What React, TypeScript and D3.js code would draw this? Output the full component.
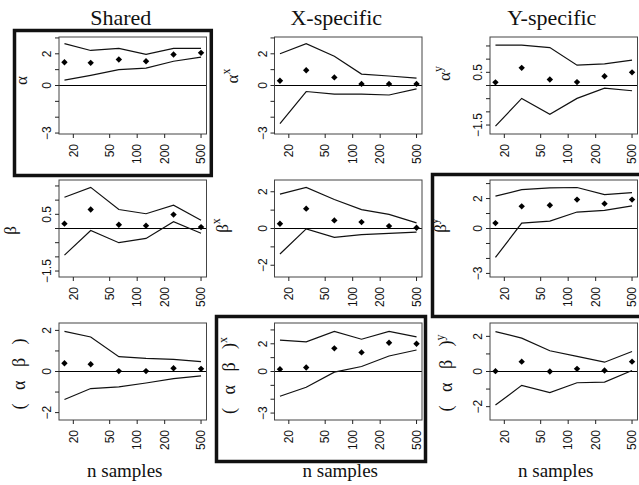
import React from "react";
import * as d3 from "d3";

// x axis: sample sizes (log scale)
const nSamples = [16, 31, 63, 125, 250, 500];
const xTickValues = [20, 50, 100, 200, 500];
const columnTitles = ["Shared", "X-specific", "Y-specific"];
const xAxisTitle = "n samples";

// y tick sets
const ticksThree = [-3, -2, -1, 0, 1, 2, 3];
const ticksTwo = [-2, -1, 0, 1, 2];
const ticksHalf = [-1.5, -1, -0.5, 0, 0.5, 1, 1.5];
const labelsThree = [2, 0, -3];
const labelsTwo = [2, 0, -2];
const labelsHalf = [0.5, -1.5];

// upper bound / lower bound / estimate per panel
const alphaUpper = [2.64, 2.21, 2.34, 1.96, 2.34, 2.34];
const alphaLower = [0.34, 0.64, 1.0, 1.1, 1.53, 1.79];
const alphaEst = [1.47, 1.43, 1.64, 1.53, 1.96, 2.06];

const alphaXUpper = [2.0, 2.64, 1.85, 0.72, 0.6, 0.47];
const alphaXLower = [-2.4, -0.38, -0.55, -0.55, -0.6, -0.21];
const alphaXEst = [0.3, 0.96, 0.51, 0.1, 0.1, 0.1];

const alphaYUpper = [1.53, 1.53, 1.44, 0.77, 0.82, 0.96];
const alphaYLower = [-1.54, -0.49, -1.09, -0.49, -0.1, -0.2];
const alphaYEst = [0.12, 0.67, 0.23, 0.13, 0.35, 0.5];

const betaUpper = [1.1, 1.45, 0.67, 0.52, 0.82, 0.29];
const betaLower = [-0.94, -0.07, -0.5, -0.35, 0.24, -0.17];
const betaEst = [0.17, 0.67, 0.13, 0.1, 0.49, 0.05];

const betaXUpper = [1.87, 2.24, 1.58, 1.03, 0.77, 0.31];
const betaXLower = [-1.39, -0.02, -0.48, -0.33, -0.26, -0.2];
const betaXEst = [0.26, 1.08, 0.44, 0.35, 0.13, 0.04];

const betaYUpper = [2.16, 2.6, 2.72, 2.74, 2.27, 2.4];
const betaYLower = [-1.93, 0.36, 0.49, 1.1, 1.21, 1.51];
const betaYEst = [0.36, 1.48, 1.55, 1.93, 1.66, 1.93];

const abUpper = [1.95, 1.68, 0.72, 0.64, 0.59, 0.48];
const abLower = [-1.36, -0.83, -0.75, -0.56, -0.35, -0.21];
const abEst = [0.4, 0.35, 0.02, 0.02, 0.16, 0.13];

const abXUpper = [2.26, 2.14, 2.9, 2.33, 2.9, 2.5];
const abXLower = [-1.79, -1.14, -0.05, 0.36, 1.12, 1.55];
const abXEst = [0.17, 0.29, 1.67, 1.38, 2.07, 2.0];

const abYUpper = [2.27, 1.9, 1.18, 0.86, 0.53, 1.14];
const abYLower = [-1.91, -0.79, -1.2, -0.64, -0.6, 0.06];
const abYEst = [0.02, 0.56, 0.0, 0.15, 0.06, 0.56];

const panels = [
  { row: 0, col: 0, base: "α", sup: "", upper: alphaUpper, lower: alphaLower, est: alphaEst, yMax: 3.06, ticks: ticksThree, labels: labelsThree, ldx: -32, ldy: -5 },
  { row: 0, col: 1, base: "α", sup: "x", upper: alphaXUpper, lower: alphaXLower, est: alphaXEst, yMax: 3.06, ticks: ticksThree, labels: labelsThree, ldx: -37, ldy: -9.5 },
  { row: 0, col: 2, base: "α", sup: "y", upper: alphaYUpper, lower: alphaYLower, est: alphaYEst, yMax: 1.84, ticks: ticksHalf, labels: labelsHalf, ldx: -40, ldy: -12 },
  { row: 1, col: 0, base: "β", sup: "", upper: betaUpper, lower: betaLower, est: betaEst, yMax: 1.71, ticks: ticksHalf, labels: labelsHalf, ldx: -43.5, ldy: 2 },
  { row: 1, col: 1, base: "β", sup: "x", upper: betaXUpper, lower: betaXLower, est: betaXEst, yMax: 2.64, ticks: ticksTwo, labels: labelsTwo, ldx: -47, ldy: -3 },
  { row: 1, col: 2, base: "β", sup: "y", upper: betaYUpper, lower: betaYLower, est: betaYEst, yMax: 3.24, ticks: ticksThree, labels: labelsThree, ldx: -44, ldy: -3 },
  { row: 2, col: 0, base: "(   α   β   )", sup: "", upper: abUpper, lower: abLower, est: abEst, yMax: 2.36, ticks: ticksTwo, labels: labelsTwo, ldx: -34, ldy: 2.5 },
  { row: 2, col: 1, base: "(   α   β   )", sup: "x", upper: abXUpper, lower: abXLower, est: abXEst, yMax: 3.5, ticks: ticksThree, labels: labelsThree, ldx: -39.5, ldy: 4 },
  { row: 2, col: 2, base: "(   α   β   )", sup: "y", upper: abYUpper, lower: abYLower, est: abYEst, yMax: 2.76, ticks: ticksTwo, labels: labelsTwo, ldx: -38, ldy: 1.5 },
];

// layout
const W = 639;
const H = 485;
const boxW = 147.5;
const boxH = 97;
const colX = (c) => 59 + c * 215.5;
const rowY = (r) => 37 + r * 143;

const frames = [
  { x: 14.5, y: 30.5, w: 196.8, h: 145 },
  { x: 432.5, y: 174.5, w: 212, h: 142 },
  { x: 216.5, y: 316.5, w: 209, h: 145 },
];

const sans = "'Liberation Sans', Arial, sans-serif";
const serif = "'Liberation Serif', 'Times New Roman', serif";

const fmt = (v) => (v < 0 ? "\u2212" + Math.abs(v) : String(v));

// R style 4% padding on the log extent
const logExt = d3.extent(nSamples.map((n) => Math.log10(n)));
const pad = (logExt[1] - logExt[0]) * 0.04;
const xDomain = [Math.pow(10, logExt[0] - pad), Math.pow(10, logExt[1] + pad)];

const diamond = d3.symbol().type(d3.symbolDiamond2 || d3.symbolDiamond).size(26)();

function Panel({ p }) {
  const left = colX(p.col);
  const top = rowY(p.row);
  const x = d3.scaleLog().domain(xDomain).range([left, left + boxW]);
  const y = d3.scaleLinear().domain([-p.yMax, p.yMax]).range([top + boxH, top]);
  const line = d3
    .line()
    .x((d) => x(d[0]))
    .y((d) => y(d[1]));
  const bottom = top + boxH;
  const cy = top + boxH / 2;
  const lx = left + p.ldx;
  const ly = cy + p.ldy;

  return (
    <g>
      <line x1={left} x2={left + boxW} y1={y(0)} y2={y(0)} stroke="#000" strokeWidth={1} />
      <path d={line(nSamples.map((n, i) => [n, p.upper[i]]))} fill="none" stroke="#111" strokeWidth={1.2} />
      <path d={line(nSamples.map((n, i) => [n, p.lower[i]]))} fill="none" stroke="#111" strokeWidth={1.2} />
      {nSamples.map((n, i) => (
        <path key={i} d={diamond} transform={`translate(${x(n)},${y(p.est[i])})`} fill="#000" />
      ))}
      <rect x={left} y={top} width={boxW} height={boxH} fill="none" stroke="#444" strokeWidth={1} />

      {/* y axis */}
      {p.ticks.map((t) => (
        <line key={t} x1={left - 4} x2={left} y1={y(t)} y2={y(t)} stroke="#222" strokeWidth={1} />
      ))}
      {p.labels.map((t) => (
        <text
          key={t}
          transform={`translate(${left - 8},${y(t)}) rotate(-90)`}
          textAnchor="middle"
          fontFamily={sans}
          fontSize={12}
          fill="#111"
        >
          {fmt(t)}
        </text>
      ))}

      {/* x axis */}
      {xTickValues.map((t) => (
        <g key={t}>
          <line x1={x(t)} x2={x(t)} y1={bottom} y2={bottom + 4} stroke="#222" strokeWidth={1} />
          <text
            transform={`translate(${x(t)},${bottom + 10}) rotate(-90)`}
            textAnchor="end"
            dy="0.35em"
            fontFamily={sans}
            fontSize={12}
            fill="#111"
          >
            {t}
          </text>
        </g>
      ))}

      {/* y label */}
      <text
        transform={`translate(${lx},${ly}) rotate(-90)`}
        textAnchor="middle"
        fontFamily={serif}
        fontSize={p.row === 2 ? 18 : 17}
        fill="#111"
        style={{ whiteSpace: "pre" }}
      >
        <tspan>{p.base}</tspan>
        {p.sup && (
          <tspan fontSize={12} dy={-8}>
            {p.sup}
          </tspan>
        )}
      </text>
    </g>
  );
}

export default function App() {
  return (
    <svg
      width={W}
      height={H}
      viewBox={`0 0 ${W} ${H}`}
      style={{ position: "absolute", left: 0, top: 0, background: "#fff" }}
    >
      <rect x={0} y={0} width={W} height={H} fill="#fff" />
      {columnTitles.map((t, c) => (
        <text key={t} x={colX(c) + boxW / 2 - 12} y={25} textAnchor="middle" fontFamily={serif} fontSize={22} fill="#111">
          {t}
        </text>
      ))}
      {panels.map((p, i) => (
        <Panel key={i} p={p} />
      ))}
      {columnTitles.map((t, c) => (
        <text key={"n" + c} x={colX(c) + boxW / 2 - 8} y={477} textAnchor="middle" fontFamily={serif} fontSize={19} fill="#111">
          {xAxisTitle}
        </text>
      ))}
      {frames.map((f, i) => (
        <rect key={i} x={f.x} y={f.y} width={f.w} height={f.h} fill="none" stroke="#111" strokeWidth={3.5} />
      ))}
    </svg>
  );
}
